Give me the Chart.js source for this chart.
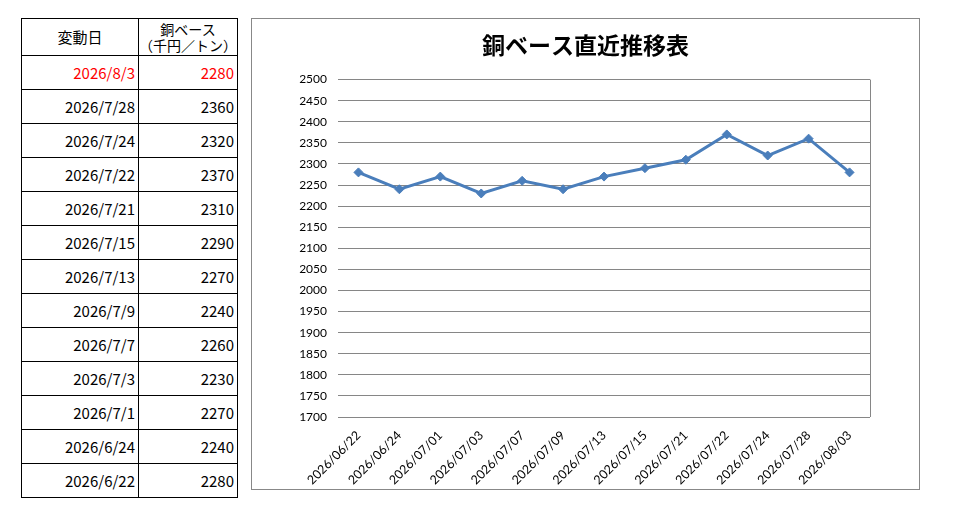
<!DOCTYPE html>
<html><head><meta charset="utf-8">
<script src="https://cdn.jsdelivr.net/npm/chart.js@4.4.1/dist/chart.umd.min.js"></script>
<style>
html,body{margin:0;padding:0;background:#fff;}
body{width:956px;height:515px;position:relative;overflow:hidden;font-family:"Noto Sans CJK JP",sans-serif;}
#tbl{position:absolute;left:21px;top:18px;border-collapse:collapse;font-size:15px;color:#000;table-layout:fixed;}
#tbl td,#tbl th{border:1px solid #000;padding:0 3px 0 0;height:33px;font-weight:normal;white-space:nowrap;overflow:hidden;box-sizing:border-box;}
#tbl th{height:37px;text-align:center;padding:0;line-height:16px;font-size:14px;}
#tbl th.h1{font-size:15px;}
#tbl td{text-align:right;height:34px;}
#tbl .c1{width:117px;}
#tbl .c2{width:97px;}
#tbl tr.red td{color:#ff0000;}
#box{position:absolute;left:251px;top:18px;width:667px;height:470px;border:1px solid #888;}
#box canvas{display:block;}
</style></head>
<body>
<table id="tbl"><colgroup><col class="c1"><col class="c2"></colgroup><thead><tr><th class="h1">変動日</th><th>銅ベース<br>（千円／トン）</th></tr></thead><tbody id="tb"></tbody></table>
<div id="box"><canvas id="c" width="667" height="470"></canvas></div>
<script>
const categories = ["2026/06/22","2026/06/24","2026/07/01","2026/07/03","2026/07/07","2026/07/09","2026/07/13","2026/07/15","2026/07/21","2026/07/22","2026/07/24","2026/07/28","2026/08/03"];
const copperBase = [2280,2240,2270,2230,2260,2240,2270,2290,2310,2370,2320,2360,2280];
const chartTitle = "銅ベース直近推移表";
const yMin = 1700, yMax = 2500, yStep = 50;

// table (newest first)
const tb = document.getElementById('tb');
for (let i = categories.length - 1; i >= 0; i--) {
  const p = categories[i].split('/');
  const d = p[0] + '/' + parseInt(p[1], 10) + '/' + parseInt(p[2], 10);
  const tr = document.createElement('tr');
  if (i === categories.length - 1) tr.className = 'red';
  tr.innerHTML = '<td>' + d + '</td><td>' + copperBase[i] + '</td>';
  tb.appendChild(tr);
}

const rightBorder = {
  id: 'rightBorder',
  beforeDatasetsDraw(chart) {
    const a = chart.chartArea, ctx = chart.ctx;
    ctx.save();
    ctx.strokeStyle = '#868686';
    ctx.lineWidth = 1;
    ctx.beginPath();
    ctx.moveTo(Math.round(a.right) + 0.5, a.top);
    ctx.lineTo(Math.round(a.right) + 0.5, a.bottom);
    ctx.stroke();
    ctx.restore();
  }
};

new Chart(document.getElementById('c'), {
  type: 'line',
  data: {
    labels: categories,
    datasets: [{
      data: copperBase,
      borderColor: '#4A7EBB',
      backgroundColor: '#4A7EBB',
      borderWidth: 3,
      pointStyle: 'rectRot',
      pointRadius: 4.5,
      pointBorderWidth: 1,
      tension: 0
    }]
  },
  options: {
    responsive: false,
    animation: false,
    devicePixelRatio: 1,
    layout: { padding: 0 },
    plugins: {
      legend: { display: false },
      tooltip: { enabled: false },
      title: {
        display: true,
        text: chartTitle,
        color: '#000',
        font: { family: '"Noto Sans CJK JP"', size: 23, weight: 'bold' },
        padding: { top: 12, bottom: 21 }
      }
    },
    scales: {
      x: {
        offset: true,
        grid: { display: false },
        border: { display: false },
        ticks: {
          color: '#000',
          font: { family: 'Lato', size: 12.5 },
          minRotation: 45, maxRotation: 45,
          autoSkip: false,
          padding: 3
        },
        afterFit(s) { s.height = 72; }
      },
      y: {
        min: yMin, max: yMax,
        border: { display: false },
        grid: { color: '#868686', drawTicks: false, lineWidth: 1 },
        ticks: {
          stepSize: yStep,
          color: '#000',
          font: { family: 'Lato', size: 12 },
          padding: 11,
          callback: v => String(v)
        },
        afterFit(s) { s.width = 86; }
      },
      yR: {
        position: 'right',
        display: true,
        grid: { display: false },
        border: { display: false },
        ticks: { display: false },
        afterFit(s) { s.width = 49; }
      }
    }
  },
  plugins: [rightBorder]
});
</script>
</body></html>
